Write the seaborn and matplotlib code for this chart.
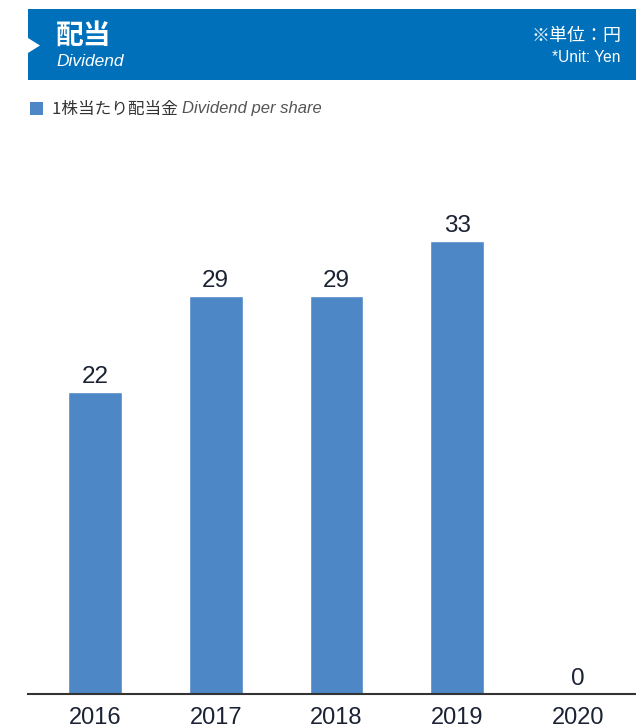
import matplotlib
matplotlib.use("Agg")
import matplotlib.pyplot as plt
from matplotlib.patches import Rectangle, Polygon
import seaborn as sns
import pandas as pd

years = ["2016", "2017", "2018", "2019", "2020"]
dividend = [22, 29, 29, 33, 0]

title_ja = "配当"
title_en = "Dividend"
unit_ja = "※単位：円"
unit_en = "*Unit: Yen"
legend_ja = "1株当たり配当金"
legend_en = "Dividend per share"

BLUE_HEADER = "#0070BA"
BAR_COLOR = "#4D87C6"
TEXT_DARK = "#1B2233"

sns.set_theme(style="white")
plt.rcParams["font.family"] = ["Liberation Sans", "Noto Sans CJK JP", "DejaVu Sans"]

W, H = 636, 728
fig = plt.figure(figsize=(W / 100, H / 100), dpi=100)

def fx(px):
    return px / W

def fy(py):
    return 1 - py / H

# header band
fig.patches.append(Rectangle((fx(28), fy(80)), fx(636) - fx(28), fy(9) - fy(80),
                             transform=fig.transFigure, facecolor=BLUE_HEADER,
                             edgecolor="none", zorder=0))
fig.patches.append(Polygon([(fx(28), fy(38)), (fx(28), fy(53)), (fx(40), fy(45.5))],
                           closed=True, transform=fig.transFigure,
                           facecolor="white", edgecolor="none", zorder=1))
fig.text(fx(56), fy(36), title_ja, color="white", fontsize=20, fontweight="bold",
         va="center", ha="left", family=["Noto Sans CJK JP", "DejaVu Sans"])
fig.text(fx(56), fy(61), title_en, color="white", fontsize=12.5, style="italic",
         va="center", ha="left")
fig.text(fx(621), fy(36), unit_ja, color="white", fontsize=13,
         va="center", ha="right", family=["Noto Sans CJK JP", "DejaVu Sans"])
fig.text(fx(621), fy(57), unit_en, color="white", fontsize=11.2,
         va="center", ha="right")

# legend
fig.patches.append(Rectangle((fx(30), fy(115)), fx(13), fy(102) - fy(115),
                             transform=fig.transFigure, facecolor=BAR_COLOR,
                             edgecolor="none"))
t1 = fig.text(fx(52), fy(109), legend_ja + " ", color="#333333", fontsize=12,
              va="center", ha="left", family=["Noto Sans CJK JP", "DejaVu Sans"])
fig.canvas.draw()
bb = t1.get_window_extent()
fig.text(bb.x1 / W, fy(109), legend_en, color="#555555", fontsize=12,
         style="italic", va="center", ha="left")

# bar chart
ax = fig.add_axes([fx(28), fy(694), fx(636) - fx(28), fy(140) - fy(694)])
df = pd.DataFrame({"year": years, "dividend": dividend})
sns.barplot(data=df, x="year", y="dividend", color=BAR_COLOR, saturation=1,
            width=0.446, ax=ax)
ax.set_xlim(-0.554, 4.48)
ax.set_ylim(0, 40.35)
ax.set_xlabel("")
ax.set_ylabel("")
ax.set_yticks([])
for s in ["top", "right", "left"]:
    ax.spines[s].set_visible(False)
ax.spines["bottom"].set_color("#333333")
ax.spines["bottom"].set_linewidth(1.5)
ax.tick_params(axis="x", length=0, pad=9.5, labelsize=17, labelcolor=TEXT_DARK)
for c in ax.containers:
    ax.bar_label(c, labels=[str(v) for v in dividend], padding=3,
                 fontsize=17.5, color=TEXT_DARK)

fig.savefig("out.png", dpi=100)
